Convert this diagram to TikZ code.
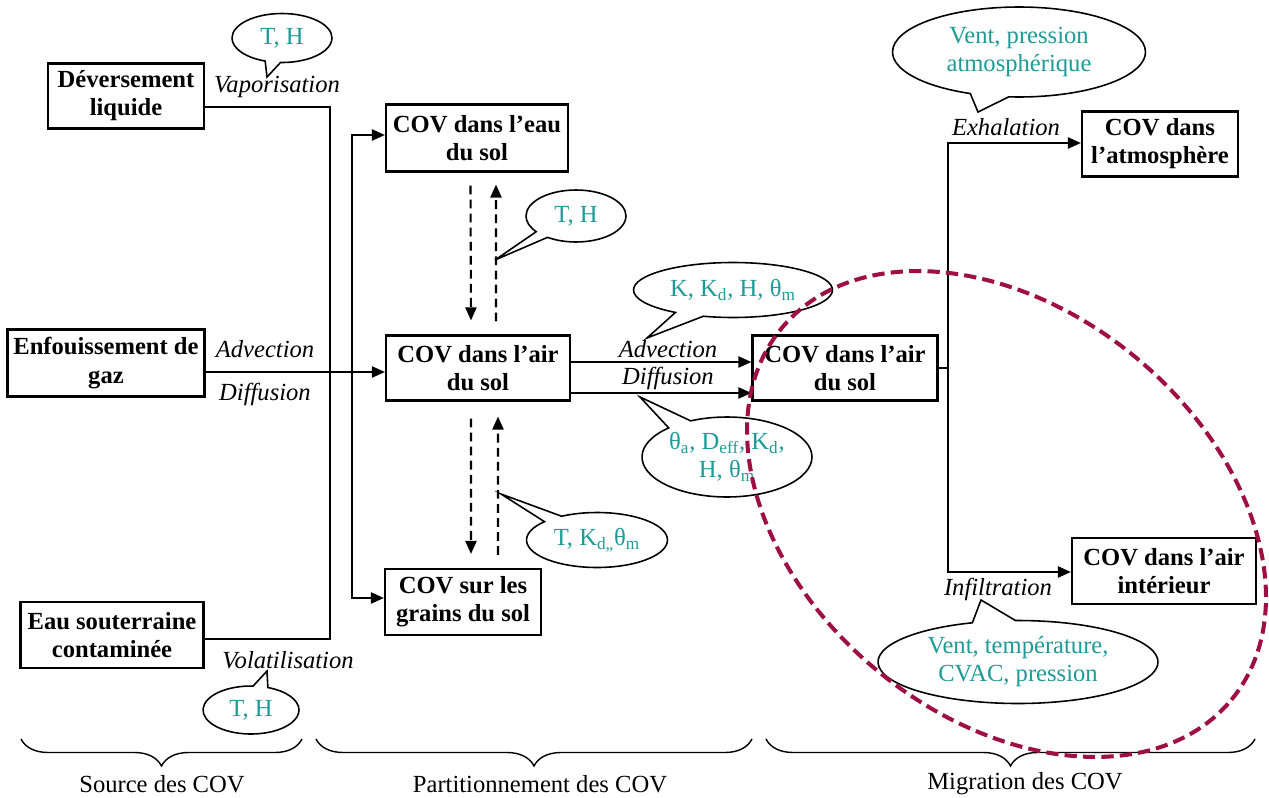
\documentclass[tikz,border=0pt]{standalone}
\usepackage{fontspec}
\setmainfont{Liberation Serif}
\usepackage{xcolor}
\usetikzlibrary{arrows.meta,shapes.geometric,shapes.callouts,decorations.pathreplacing}
\definecolor{paramteal}{RGB}{30,155,150}
\definecolor{zonered}{RGB}{158,16,66}

\begin{document}
\begin{tikzpicture}[x=0.02cm,y=-0.02cm,
        font=\fontsize{14pt}{16pt}\selectfont,
        >={Triangle[length=0.26cm,width=0.22cm]},
        covbox/.style={draw,line width=1.2pt,align=center,inner sep=2pt,
            font=\fontsize{14pt}{16pt}\selectfont\bfseries},
        param/.style={ellipse callout,draw,line width=0.9pt,fill=white,
            text=paramteal,align=center,inner sep=0pt,callout pointer arc=18},
        proc/.style={font=\fontsize{14pt}{16pt}\selectfont\itshape},
        flow/.style={line width=1.2pt},
        partition/.style={line width=1.2pt,dash pattern=on 5pt off 3pt},
        stage/.style={decorate,decoration={brace,mirror,amplitude=0.54cm},line width=0.8pt}]
        \useasboundingbox (0,0) rectangle (1269,798);

        % sources
        \node[covbox,minimum width=3.12cm,minimum height=1.3cm]  (dev) at (126,96)  {Déversement\\liquide};
        \node[covbox,minimum width=3.94cm,minimum height=1.34cm] (enf) at (106,363) {Enfouissement de\\gaz};
        \node[covbox,minimum width=3.66cm,minimum height=1.32cm] (eau) at (112,635) {Eau souterraine\\contaminée};

        % partitionnement
        \node[covbox,minimum width=3.64cm,minimum height=1.34cm] (eaus)   at (477,138) {COV dans l’eau\\du sol};
        \node[covbox,minimum width=3.68cm,minimum height=1.3cm]  (airm)   at (478,368) {COV dans l’air\\du sol};
        \node[covbox,minimum width=3.12cm,minimum height=1.32cm] (grains) at (463,602) {COV sur les\\grains du sol};

        % migration
        \node[covbox,minimum width=3.7cm,minimum height=1.3cm]   (airr)  at (845,368)  {COV dans l’air\\du sol};
        \node[covbox,minimum width=3.12cm,minimum height=1.3cm]  (atm)   at (1160,144) {COV dans\\l’atmosphère};
        \node[covbox,minimum width=3.68cm,minimum height=1.32cm] (inter) at (1164,571) {COV dans l’air\\intérieur};

        \coordinate (vA) at (330,107);
        \coordinate (vB) at (330,639);
        \coordinate (hB) at (352,372);
        \coordinate (sT) at (352,135);
        \coordinate (sB) at (352,598);
        \coordinate (vC) at (948,368);
        \coordinate (vT) at (948,143);
        \coordinate (vD) at (948,572);

        \draw[flow] (dev.east |- vA) -- (vA) -- (vB) -- (eau.east |- vB);
        \draw[flow,->] (enf.east |- hB) -- (airm.west |- hB);
        \draw[flow,->] (hB) -- (sT) -- (eaus.west |- sT);
        \draw[flow,->] (hB) -- (sB) -- (grains.west |- sB);

        \draw[partition,->] ([xshift=-0.13cm,yshift=-0.26cm]eaus.south) -- ([xshift=-0.14cm,yshift=0.28cm]airm.north);
        \draw[partition,->] ([xshift=0.36cm,yshift=0.26cm]airm.north) -- ([xshift=0.38cm,yshift=-0.24cm]eaus.south);
        \draw[partition,->] ([xshift=-0.14cm,yshift=-0.34cm]airm.south) -- ([xshift=0.16cm,yshift=0.28cm]grains.north);
        \draw[partition,->] ([xshift=0.7cm,yshift=0.26cm]grains.north) -- ([xshift=0.4cm,yshift=-0.3cm]airm.south);

        \draw[flow,->] ([yshift=0.12cm]airm.east) -- ([yshift=0.12cm]airr.west);
        \draw[flow,->] ([yshift=-0.5cm]airm.east) -- ([yshift=-0.5cm]airr.west);

        \draw[flow] (airr.east) -- (vC);
        \draw[flow,->] (vC) -- (vT) -- (atm.west |- vT);
        \draw[flow,->] (vC) -- (vD) -- (inter.west |- vD);

        % processus
        \node[proc] (vap)  at (277,87)  {Vaporisation};
        \node[proc] (adv1) at (265,349) {Advection};
        \node[proc] (dif1) at (265,394) {Diffusion};
        \node[proc] (adv2) at (668,349) {Advection};
        \node[proc] (dif2) at (668,378) {Diffusion};
        \node[proc] (exh)  at (1006,127) {Exhalation};
        \node[proc] (inf)  at (998,589) {Infiltration};
        \node[proc] (vol)  at (288,660) {Volatilisation};

        % parametres
        \node[param,minimum width=2cm,minimum height=0.98cm,callout absolute pointer={(267,77)}] (pVap) at (282,38) {T, H};
        \node[param,minimum width=2cm,minimum height=1.04cm,callout absolute pointer={(495,260)}] (pEau) at (576,216) {T, H};
        \node[param,minimum width=3.98cm,minimum height=1.1cm,callout absolute pointer={(647,338)}] (pAdv) at (733,290)
            {K, K\textsubscript{d}, H, θ\textsubscript{m}};
        \node[param,minimum width=3.4cm,minimum height=1.6cm,callout absolute pointer={(640,397)}] (pDif) at (727,457)
            {θ\textsubscript{a}, D\textsubscript{eff}, K\textsubscript{d},\\H, θ\textsubscript{m}};
        \node[param,minimum width=2.82cm,minimum height=1.1cm,callout absolute pointer={(501,494)}] (pGra) at (597,540)
            {T, K\textsubscript{d,,}θ\textsubscript{m}};
        \node[param,minimum width=5.06cm,minimum height=1.8cm,callout absolute pointer={(978,112)}] (pExh) at (1019,52)
            {Vent, pression\\atmosphérique};
        \node[param,minimum width=5.6cm,minimum height=1.66cm,callout absolute pointer={(981,600)}] (pInf) at (1018,662)
            {Vent, température,\\CVAC, pression};
        \node[param,minimum width=1.92cm,minimum height=0.96cm,callout absolute pointer={(267,671)}] (pVol) at (251,710) {T, H};

        % etapes
        \draw[stage] (21,739) -- (302,739);
        \draw[stage] (316,739) -- (752,739);
        \draw[stage] (766,739) -- (1255,739);
        \node (src) at (162,784)  {Source des COV};
        \node (prt) at (540,784)  {Partitionnement des COV};
        \node (mig) at (1025,784) {Migration des COV};

        % zone
        \draw[zonered,line width=2.3pt,dash pattern=on 7pt off 3.5pt,rotate around={-39.55:(1006.5,514)}]
            (1006.5,514) ellipse [x radius=5.836cm,y radius=4.062cm];
    \end{tikzpicture}
\end{document}
